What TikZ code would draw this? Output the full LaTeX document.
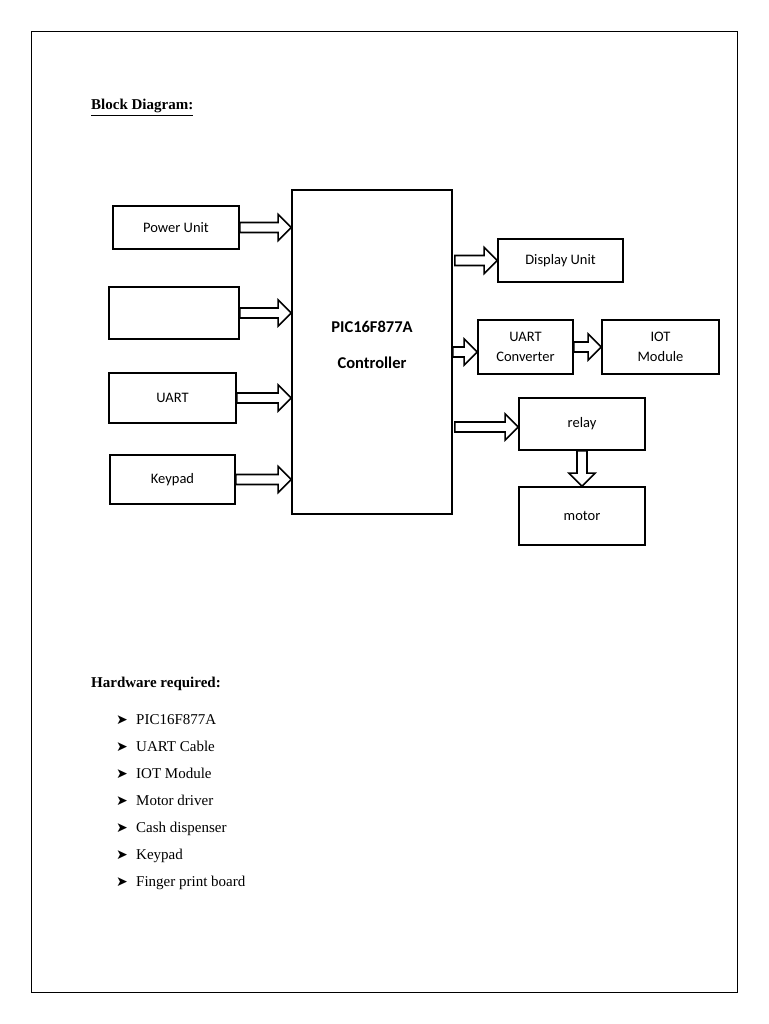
\documentclass[tikz,border=0pt]{standalone}
\usepackage{fontspec}
\setmainfont{Liberation Serif}
\newfontfamily\boxfont{Carlito}
\newfontfamily\symfont{DejaVu Sans}
\usetikzlibrary{calc}

% hollow block arrow pointing right, from #1 to #2
\newcommand\fatarrow[2]{%
  \draw[fat] ($(#1)+(0,5)$) -- ($(#2)+(-13,5)$) -- ($(#2)+(-13,13)$) -- (#2)
    -- ($(#2)+(-13,-13)$) -- ($(#2)+(-13,-5)$) -- ($(#1)+(0,-5)$) -- cycle;}

\begin{document}
\begin{tikzpicture}[x=1pt,y=-1pt]
  \tikzset{
    blk/.style={draw,line width=1.7pt,inner sep=2pt,align=center,
      font=\boxfont\fontsize{14.5}{20}\selectfont},
    fat/.style={draw,line width=1.6pt,fill=white,line join=miter},
    hdr/.style={anchor=base west,inner sep=0pt,font=\fontsize{15}{18}\selectfont\bfseries},
    item/.style={anchor=base west,inner sep=0pt,font=\fontsize{15}{18}\selectfont}
  }
  \useasboundingbox (0,0) rectangle (768,1024);
  % page frame
  \draw[line width=1pt] (31,32) rectangle (737,992);

  \node[hdr] (title) at (91,110) {\underline{Block Diagram:}};

  % inputs
  \node[blk,minimum width=126pt,minimum height=43pt] (pwr) at (176,227.5) {Power Unit};
  \node[blk,minimum width=130pt,minimum height=52pt] (blank) at (174,313) {};
  \node[blk,minimum width=127pt,minimum height=50pt] (uart) at (172.5,398) {UART};
  \node[blk,minimum width=125pt,minimum height=49pt] (keypad) at (172.5,479.5) {Keypad};

  % controller
  \node[blk,minimum width=160pt,minimum height=324pt] (ctrl) at (372,352) {};
  \node[font=\boxfont\bfseries\fontsize{16.5}{36}\selectfont,align=center]
    (ctrllabel) at (372,345) {PIC16F877A\\Controller};

  % outputs
  \node[blk,minimum width=125pt,minimum height=43pt] (disp) at (560.5,260.5) {Display Unit};
  \node[blk,minimum width=95pt,minimum height=54pt] (conv) at (525.5,347) {UART\\Converter};
  \node[blk,minimum width=117pt,minimum height=54pt] (iot) at (660.5,347) {IOT\\Module};
  \node[blk,minimum width=126pt,minimum height=52pt] (relay) at (582,424) {relay};
  \node[blk,minimum width=126pt,minimum height=58pt] (motor) at (582,516) {motor};

  % arrow ends
  \coordinate (a1) at (pwr.east -| ctrl.west);
  \coordinate (a2) at (blank.east -| ctrl.west);
  \coordinate (a3) at (uart.east -| ctrl.west);
  \coordinate (a4) at (keypad.east -| ctrl.west);
  \coordinate (b1) at ($(ctrl.east |- disp.west)+(2,0)$);
  \coordinate (b2) at ($(ctrl.east |- conv.west)+(0,5)$);
  \coordinate (b3) at ($(ctrl.east |- relay.west)+(2,3)$);
  \coordinate (c2) at ($(conv.west)+(0,5)$);
  \coordinate (c3) at ($(relay.west)+(0,3)$);

  \fatarrow{pwr.east}{a1}
  \fatarrow{blank.east}{a2}
  \fatarrow{uart.east}{a3}
  \fatarrow{keypad.east}{a4}
  \fatarrow{b1}{disp.west}
  \fatarrow{b2}{c2}
  \fatarrow{conv.east}{iot.west}
  \fatarrow{b3}{c3}

  % relay to motor, pointing down
  \draw[fat] ($(relay.south)+(-5,0)$) -- ($(motor.north)+(-5,-13)$)
    -- ($(motor.north)+(-13,-13)$) -- (motor.north) -- ($(motor.north)+(13,-13)$)
    -- ($(motor.north)+(5,-13)$) -- ($(relay.south)+(5,0)$) -- cycle;

  % hardware list
  \node[hdr] (hw) at (91,687) {Hardware required:};
  \foreach \txt [count=\i] in {PIC16F877A,UART Cable,IOT Module,Motor driver,
      Cash dispenser,Keypad,Finger print board}{
    \node[anchor=base west,inner sep=0pt,font=\symfont\fontsize{14}{14}\selectfont]
      (bul\i) at (116,724+27*\i-27) {➤};
    \node[item] (hw\i) at (136,724+27*\i-27) {\txt};
  }
\end{tikzpicture}
\end{document}
